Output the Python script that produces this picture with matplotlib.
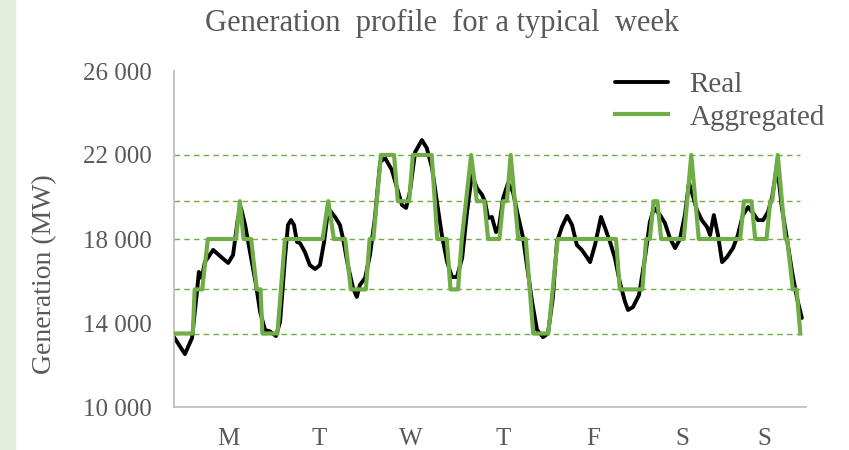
import matplotlib
matplotlib.use("Agg")
import matplotlib.pyplot as plt
from matplotlib.patches import Rectangle

plt.rcParams["font.family"] = ["Liberation Serif", "DejaVu Serif"]

# =====================================
# Data (hours of the week, MW)
# =====================================

real_hours = [
    0, 2.9, 4.8, 6.1, 6.6, 7.4, 8.2, 10.4, 12.8, 14.4, 15.7, 17.0, 17.8, 18.9,
    20.2, 21.8, 22.9, 24.2, 25.5, 27.1, 28.2, 29.5, 30.3, 31.1, 31.9, 32.7,
    33.5, 34.8, 36.1, 37.5, 38.8, 39.9, 40.7, 41.5, 42.8, 44.1, 44.9, 46.2,
    47.6, 48.6, 49.4, 50.8, 52.1, 53.4, 54.8, 56.1, 57.9, 59.3, 60.6, 61.7,
    62.7, 64.1, 65.9, 67.2, 68.6, 69.9, 71.2, 72.6, 73.9, 75.2, 76.6, 77.9,
    79.2, 80.5, 81.9, 82.7, 83.5, 84.5, 85.6, 86.4, 87.5, 88.8, 90.1, 91.4,
    92.8, 93.8, 95.2, 96.5, 98.1, 99.4, 100.7, 101.8, 103.1, 104.5, 105.8,
    107.1, 108.4, 109.5, 110.6, 111.9, 113.5, 114.6, 115.9, 117.2, 118.5,
    119.9, 120.7, 122.0, 123.6, 125.2, 126.5, 127.6, 129.2, 130.5, 131.8,
    133.2, 134.5, 135.8, 136.9, 137.7, 139.0, 140.3, 141.7, 142.5, 143.5,
    144.6, 145.7, 147.0, 148.6, 149.9, 151.2, 152.6, 153.9, 155.2, 156.6,
    157.9, 159.0, 160.3, 161.6, 162.9, 164.3, 165.6, 166.9,
]
real_mw = [
    13330, 12520, 13290, 15480, 16430, 16140, 16900, 17480, 17100, 16860,
    17240, 19000, 19480, 18670, 17380, 15810, 14520, 13670, 13600, 13380,
    14050, 17100, 18670, 18900, 18670, 17860, 17800, 17380, 16760, 16570,
    16760, 17860, 19000, 19350, 19050, 18670, 18050, 16760, 15670, 15240,
    15810, 16140, 17240, 19000, 21670, 21860, 21290, 20430, 19620, 19480,
    20240, 22140, 22710, 22330, 21380, 19760, 18190, 16900, 16190, 16190,
    17100, 19290, 21050, 20430, 20100, 19760, 19000, 19050, 18330, 18600,
    19950, 20670, 20240, 19140, 18050, 16760, 15000, 13670, 13330, 13500,
    15190, 17860, 18570, 19100, 18670, 17710, 17480, 17200, 16900, 17710,
    19050, 18520, 17860, 17100, 15950, 15000, 14620, 14760, 15330, 17100,
    18810, 19480, 19140, 18760, 18050, 17570, 18000, 19140, 20670, 20200,
    19380, 18900, 18570, 18190, 19140, 18190, 16900, 17140, 17570, 18190,
    19140, 19520, 19240, 18900, 18900, 19290, 20000, 21520, 19480, 18050,
    16430, 15190, 14240,
]

agg_hours = [
    0, 5, 5.5, 7.5, 9, 16.5, 17.5, 18.5, 20.5, 22, 23, 23.5, 27.5, 29.5,
    39.5, 41, 42.5, 45.5, 47, 51, 52, 53, 55, 58.5, 59.5, 62.5, 63.5, 68.5,
    70, 72.5, 73.5, 75.5, 76.5, 79, 80.5, 82.5, 83.5, 86.5, 87.5, 88.5, 89.5,
    91.5, 93.5, 95.5, 99.5, 102, 117.5, 118.5, 124.5, 125.5, 126.5, 127.5,
    128.5, 129.5, 135.5, 137.5, 139.5, 150.5, 151.5, 153.5, 154.5, 157.5,
    158.5, 159, 160.5, 162.5, 163, 164.5, 165.5, 166.5,
]
agg_mw = [
    13500, 13500, 15600, 15600, 18000, 18000, 19800, 18000, 18000, 15600,
    15600, 13500, 13500, 18000, 18000, 19800, 18000, 18000, 15600, 15600,
    18000, 18000, 22000, 22000, 19800, 19800, 22000, 22000, 18000, 18000,
    15600, 15600, 18000, 22000, 19800, 19800, 18000, 18000, 19800, 19800,
    22000, 18000, 18000, 13500, 13500, 18000, 18000, 15600, 15600, 18000,
    18000, 19800, 19800, 18000, 18000, 22000, 18000, 18000, 19800, 19800,
    18000, 18000, 19800, 19800, 22000, 18000, 18000, 15600, 15600, 13500,
]

levels = [13500, 15600, 18000, 19800, 22000]

day_labels = ["M", "T", "W", "T", "F", "S", "S"]
day_pos = [14.5, 38.5, 63, 87.5, 111.5, 135, 157]

y_ticks = [10000, 14000, 18000, 22000, 26000]
y_tick_labels = ["10 000", "14 000", "18 000", "22 000", "26 000"]

# =====================================
# Chart
# =====================================

TEXT = "#595959"
GREEN = "#70AD47"

fig = plt.figure(figsize=(8.49, 4.5), dpi=100)
fig.patches.append(Rectangle((0, 0), 15 / 849, 1, transform=fig.transFigure,
                             color="#E2EFDA", zorder=0))

ax = fig.add_axes([174 / 849, 43 / 450, 632 / 849, 336 / 450])

for lv in levels:
    ax.plot([0, 166.5], [lv, lv], color=GREEN, lw=1.0,
            linestyle=(0, (4, 3)), zorder=1)

ax.plot(real_hours, real_mw, color="black", lw=2.8, label="Real",
        solid_joinstyle="round", solid_capstyle="round", zorder=2)
ax.plot(agg_hours, agg_mw, color=GREEN, lw=3.0, label="Aggregated",
        solid_joinstyle="round", zorder=3)

ax.set_xlim(0, 168)
ax.set_ylim(10000, 26000)
ax.set_yticks(y_ticks)
ax.set_yticklabels(y_tick_labels)
ax.set_xticks(day_pos)
ax.set_xticklabels(day_labels)
ax.tick_params(axis="both", length=0, labelsize=18, colors=TEXT)
ax.tick_params(axis="y", pad=16)
ax.tick_params(axis="x", pad=15)

for side in ["top", "right"]:
    ax.spines[side].set_visible(False)
for side in ["left", "bottom"]:
    ax.spines[side].set_color("#BFBFBF")
    ax.spines[side].set_linewidth(1.3)

fig.text(45 / 849, 1 - 274 / 450, "Generation (MW)", rotation=90,
         ha="center", va="center", fontsize=20, color=TEXT)

fig.text(442 / 849, 1 - 23 / 450, "Generation  profile  for a typical  week",
         ha="center", va="center", fontsize=22, color=TEXT)

leg = ax.legend(loc="upper left", bbox_to_anchor=(615 / 849, 1 - 72 / 450),
                bbox_transform=fig.transFigure, frameon=False, fontsize=21,
                handlelength=1.8, handletextpad=0.75, labelspacing=0.2,
                borderpad=0, borderaxespad=0)
for text in leg.get_texts():
    text.set_color(TEXT)

plt.savefig("out.png", dpi=100)
plt.close()
